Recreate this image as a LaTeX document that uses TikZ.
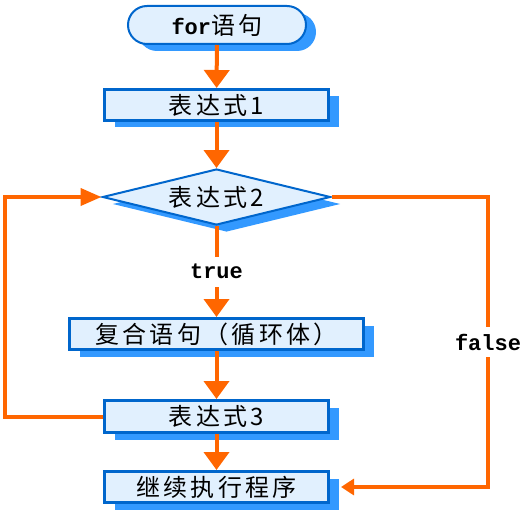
\documentclass[tikz,border=0pt]{standalone}
\usepackage{fontspec}
\usetikzlibrary{shapes.geometric,shapes.misc,shadows,arrows.meta}
\newfontfamily\cjkfont[LetterSpace=14]{Noto Sans CJK SC}
\newfontfamily\codefont{Liberation Mono}
\definecolor{flowOrange}{HTML}{FF6600}
\definecolor{boxBorder}{HTML}{0066CC}
\definecolor{boxFill}{HTML}{E1F0FE}
\definecolor{boxShadow}{HTML}{3399FF}
\begin{document}
\begin{tikzpicture}
[x=1pt,y=-1pt,
  boxDecorate/.style={shape=rectangle,draw=boxBorder,line width=3pt,fill=boxFill,inner sep=0pt,
    drop shadow={shadow xshift=10pt,shadow yshift=-7pt,fill=boxShadow,opacity=1},
    font=\cjkfont\fontsize{24pt}{26pt}\selectfont},
  startDecorate/.style={boxDecorate,shape=rounded rectangle,line width=2pt},
  decideDecorate/.style={boxDecorate,shape=diamond,shape aspect=4,line width=2pt},
  lineDecorate/.style={draw=flowOrange,line width=4pt,-{Triangle[width=25pt,length=18pt]}},
  labelDecorate/.style={fill=white,inner sep=2pt,minimum height=30pt,
    font=\codefont\bfseries\fontsize{22pt}{24pt}\selectfont},
  scale=1]
\useasboundingbox (0,0) rectangle (532,513);
%% nodes or boxes
\node (start) at (217,25) [startDecorate,minimum width=178pt,minimum height=38pt]
  {{\codefont\bfseries\fontsize{22pt}{24pt}\selectfont for}语句};
\node (cond) at (216.5,197) [decideDecorate,minimum width=228pt,minimum height=56pt] {表达式2};
\foreach \nodename/\y/\w/\h/\txt in {
  e1/105/224/31/表达式1, body/334/294/31/复合语句（循环体）,
  e3/416.5/224/32/表达式3, next/487/224/31/继续执行程序}
{
  \node (\nodename) at (216.5,\y) [boxDecorate,minimum width=\w pt,minimum height=\h pt] {\txt};
}
\coordinate (leftRail) at (4.5,0);
\coordinate (rightRail) at (488,0);
\coordinate (nextIn) at ([xshift=11pt]next.east);
%% edges or lines
\path
\foreach \startnode/\endnode in {start/e1, e1/cond, body/e3, e3/next}
{
  (\startnode) edge[lineDecorate] (\endnode)
};
\path (cond) edge[lineDecorate] node[labelDecorate] {true} (body);
\draw[lineDecorate,-{Triangle[width=17pt,length=21pt]}]
  (e3.west) -- (e3.west -| leftRail) |- (cond.west);
\draw[lineDecorate,-{Triangle[width=16pt,length=13pt]}]
  (cond.east) -- (cond.east -| rightRail) |- node[labelDecorate,pos=0.25] {false} (nextIn);
\end{tikzpicture}
\end{document}
